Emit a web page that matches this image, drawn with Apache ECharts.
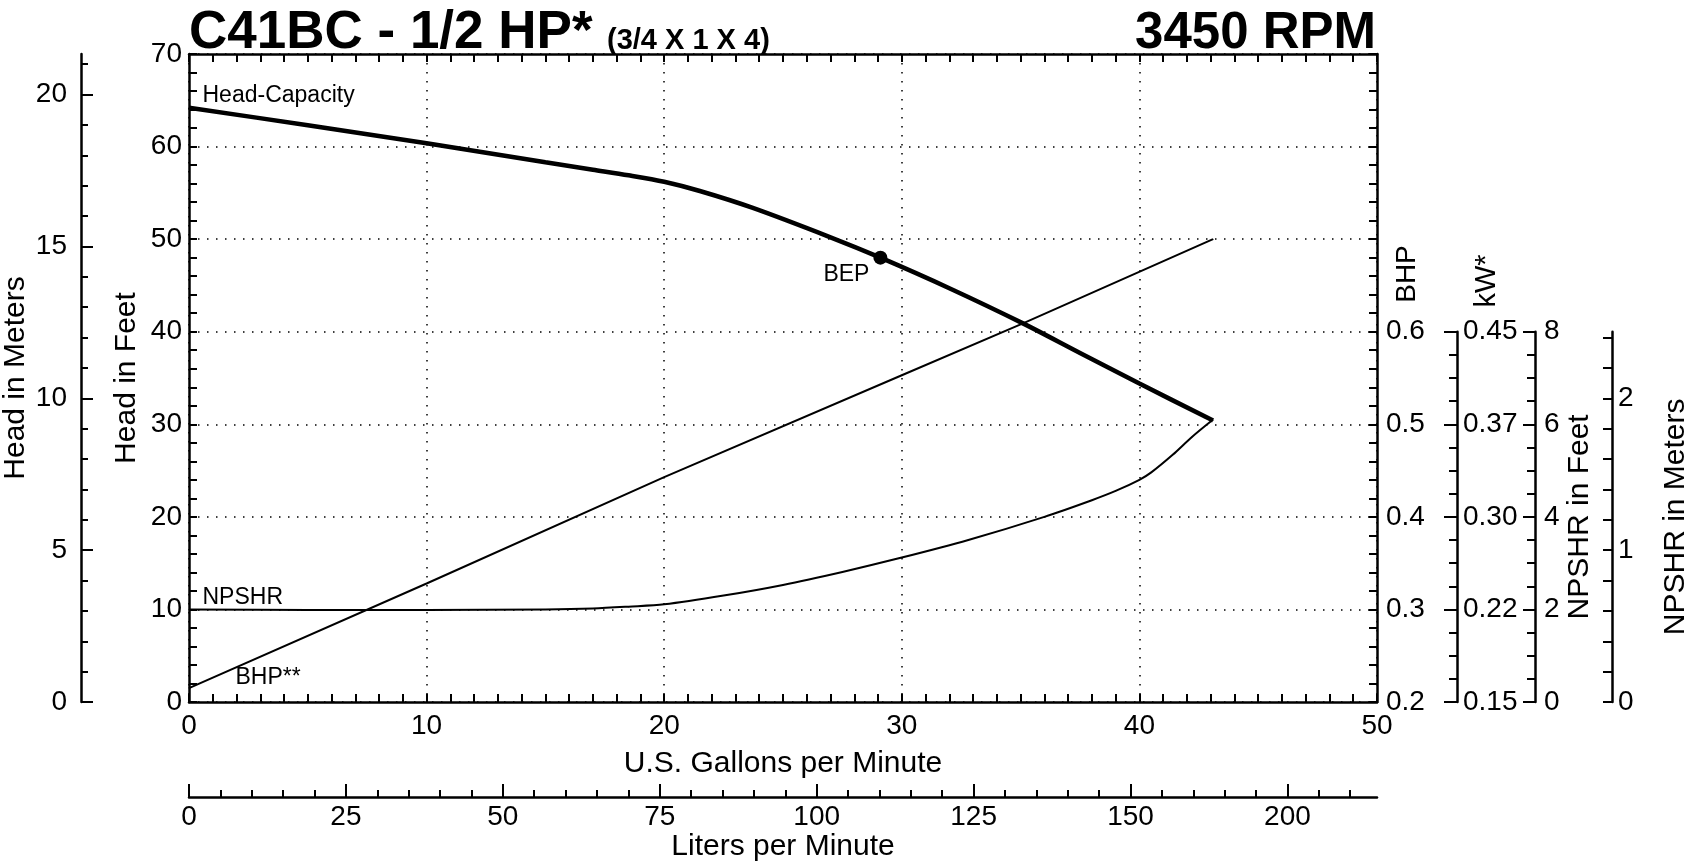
<!DOCTYPE html>
<html><head><meta charset="utf-8">
<script src="https://cdn.jsdelivr.net/npm/echarts@6/dist/echarts.min.js"></script>
<style>html,body{margin:0;padding:0;background:#fff}#c{width:1692px;height:867px}</style>
</head><body><div id="c"></div>
<script>
// ---------- data ----------
const headGpm = [0, 5, 10, 15, 17, 18.5, 20, 21.5, 23.7, 27, 29.1, 32, 35.1, 37.5, 40, 43.1];
const headFt  = [64.2, 62.3, 60.35, 58.3, 57.5, 56.9, 56.2, 55.2, 53.4, 50.2, 48.0, 44.7, 40.9, 37.7, 34.4, 30.4];
const bhpGpm    = [0, 10, 20, 30, 35.1, 43.1];
const bhpValues = [0.215, 0.328, 0.443, 0.553, 0.609, 0.70];
const npshrGpm = [0, 5, 10, 15, 17, 18.5, 20, 22.5, 25, 27.5, 30, 32.8, 36, 38, 39, 40, 40.5, 41.4, 42.2, 43.05];
const npshrFt  = [2.0, 1.99, 1.99, 2.0, 2.02, 2.06, 2.11, 2.3, 2.53, 2.81, 3.12, 3.5, 4.0, 4.36, 4.56, 4.8, 4.96, 5.34, 5.72, 6.08];
const bepGpm = [29.1];
const bepFt  = [48.0];

// ---------- tick labels ----------
const literMajorTicks = [0, 25, 50, 75, 100, 125, 150, 175];
const literTickLabels = ['0', '25', '50', '75', '100', '125', '150', '200']; // as printed on the reference
const meterMajorTicks = [0, 5, 10, 15, 20];
const bhpTickLabels   = [0.2, 0.3, 0.4, 0.5, 0.6];
const kwTickLabels    = ['0.15', '0.22', '0.30', '0.37', '0.45'];
const npshrMeterLabels = [0, 1, 2];

// unit conversions
const LPM_PER_GPM = 3.785411784;
const M_PER_FT = 0.3048;

// minor tick positions
const literMinorTicks = [];
for (let v = 5; v < 189; v += 5) if (v % 25) literMinorTicks.push(v);
const meterMinorTicks = [];
for (let v = 1; v <= 21; v++) if (v % 5) meterMinorTicks.push(v);
const bhpFrameTicks = [];
for (let i = 0; i <= 35; i++) bhpFrameTicks.push(Math.round((0.2 + 0.02 * i) * 100) / 100);
const kwMinorTicks = [];
for (let i = 1; i < 16; i++) if (i % 4) kwMinorTicks.push(Math.round((0.2 + 0.025 * i) * 1000) / 1000);
const npshrMeterTicks = [];
for (let i = 0; i <= 12; i++) npshrMeterTicks.push(Math.round(i * 0.2 * 10) / 10);

const FONT = 'Liberation Sans, Arial, Helvetica, sans-serif';
const BLACK = '#000';
const lineW = 2.5;
const tickStyle = { color: BLACK, width: 2 };
const labelStyle = { color: BLACK, fontSize: 28, fontFamily: FONT };
const nameStyle = { color: BLACK, fontSize: 30, fontFamily: FONT };
const dotted = { show: true, lineStyle: { color: BLACK, width: 1.5, type: [1.5, 7.5] } };
const axLine = { show: true, onZero: false, lineStyle: { color: BLACK, width: lineW } };
const noLine = { show: false, onZero: false };

function pts(xs, ys, firstLabel) {
  return xs.map((x, i) => (i === 0 && firstLabel) ? { value: [x, ys[i]], label: firstLabel } : [x, ys[i]]);
}
const annot = { show: true, color: BLACK, fontSize: 23, fontFamily: FONT };

const chart = echarts.init(document.getElementById('c'), null, { renderer: 'canvas' });
chart.setOption({
  animation: false,
  backgroundColor: '#fff',
  textStyle: { fontFamily: FONT, color: BLACK },
  title: [
    { text: 'C41BC - 1/2 HP*', left: 189, top: 7, padding: 0,
      textStyle: { fontSize: 53, fontWeight: 'bold', color: BLACK, fontFamily: FONT } },
    { text: '(3/4 X 1 X 4)', left: 607, top: 26, padding: 0,
      textStyle: { fontSize: 29, fontWeight: 'bold', color: BLACK, fontFamily: FONT } },
    { text: '3450 RPM', right: 316, top: 8, padding: 0,
      textStyle: { fontSize: 51, fontWeight: 'bold', color: BLACK, fontFamily: FONT } }
  ],
  grid: [
    { left: 189, top: 54, width: 1188, height: 648, containLabel: false, outerBoundsMode: 'none' },
    { left: 189, top: 331.71, width: 1188, height: 370.29, containLabel: false, outerBoundsMode: 'none' }
  ],
  xAxis: [
    { // gallons per minute
      type: 'value', gridIndex: 0, position: 'bottom', min: 0, max: 50, interval: 10,
      name: 'U.S. Gallons per Minute', nameLocation: 'middle', nameGap: 47, nameTextStyle: nameStyle, nameMoveOverlap: false,
      axisLine: axLine,
      axisTick: { show: true, inside: true, length: 8, lineStyle: tickStyle },
      minorTick: { show: true, splitNumber: 10, length: 8, lineStyle: tickStyle },
      axisLabel: Object.assign({ margin: 10 }, labelStyle),
      splitLine: dotted, minorSplitLine: { show: false }
    },
    { // top frame
      type: 'value', gridIndex: 0, position: 'top', min: 0, max: 50, interval: 10,
      axisLine: axLine,
      axisTick: { show: true, inside: true, length: 8, lineStyle: tickStyle },
      minorTick: { show: true, splitNumber: 10, length: 8, lineStyle: tickStyle },
      axisLabel: { show: false }, splitLine: { show: false }
    },
    { // liters per minute (major)
      type: 'value', gridIndex: 0, position: 'bottom', offset: 95, min: 0, max: 50 * LPM_PER_GPM,
      name: 'Liters per Minute', nameLocation: 'middle', nameGap: 35, nameTextStyle: nameStyle, nameMoveOverlap: false,
      axisLine: axLine,
      axisTick: { show: true, inside: true, length: 13, lineStyle: tickStyle, customValues: literMajorTicks },
      axisLabel: Object.assign({ margin: 6, customValues: literMajorTicks,
        formatter: v => literTickLabels[literMajorTicks.indexOf(Math.round(v))] }, labelStyle),
      splitLine: { show: false }
    },
    { // liters per minute (minor)
      type: 'value', gridIndex: 0, position: 'bottom', offset: 95, min: 0, max: 50 * LPM_PER_GPM,
      axisLine: noLine,
      axisTick: { show: true, inside: true, length: 7, lineStyle: tickStyle, customValues: literMinorTicks },
      axisLabel: { show: false }, splitLine: { show: false }
    },
    { // hidden x for the NPSHR grid
      type: 'value', gridIndex: 1, min: 0, max: 50, show: false
    }
  ],
  yAxis: [
    { // 0 head in feet
      type: 'value', gridIndex: 0, position: 'left', min: 0, max: 70, interval: 10,
      name: 'Head in Feet', nameLocation: 'middle', nameGap: 47, nameTextStyle: nameStyle, nameMoveOverlap: false,
      axisLine: axLine,
      axisTick: { show: true, inside: true, length: 8, lineStyle: tickStyle },
      minorTick: { show: true, splitNumber: 5, length: 8, lineStyle: tickStyle },
      axisLabel: Object.assign({ margin: 7 }, labelStyle),
      splitLine: dotted
    },
    { // 1 head in meters (major)
      type: 'value', gridIndex: 0, position: 'left', offset: 108, min: 0, max: 70 * M_PER_FT,
      name: 'Head in Meters', nameLocation: 'middle', nameGap: 50, nameTextStyle: nameStyle, nameMoveOverlap: false,
      axisLine: axLine,
      axisTick: { show: true, inside: true, length: 12, lineStyle: tickStyle, customValues: meterMajorTicks },
      axisLabel: Object.assign({ margin: 14, customValues: meterMajorTicks }, labelStyle),
      splitLine: { show: false }
    },
    { // 2 head in meters (minor)
      type: 'value', gridIndex: 0, position: 'left', offset: 108, min: 0, max: 70 * M_PER_FT,
      axisLine: noLine,
      axisTick: { show: true, inside: true, length: 7, lineStyle: tickStyle, customValues: meterMinorTicks },
      axisLabel: { show: false }, splitLine: { show: false }
    },
    { // 3 BHP (right frame)
      type: 'value', gridIndex: 0, position: 'right', min: 0.2, max: 0.9,
      axisLine: axLine,
      axisTick: { show: true, inside: true, length: 8, lineStyle: tickStyle, customValues: bhpFrameTicks },
      axisLabel: Object.assign({ margin: 9, customValues: bhpTickLabels, formatter: v => v.toFixed(1) }, labelStyle),
      splitLine: { show: false }
    },
    { // 4 kW (major)
      type: 'value', gridIndex: 1, position: 'right', offset: 80, min: 0.2, max: 0.6,
      axisLine: axLine,
      axisTick: { show: true, inside: true, length: 13, lineStyle: tickStyle, customValues: bhpTickLabels },
      axisLabel: Object.assign({ margin: 6, customValues: bhpTickLabels,
        formatter: v => kwTickLabels[bhpTickLabels.indexOf(Math.round(v * 10) / 10)] }, labelStyle),
      splitLine: { show: false }
    },
    { // 5 kW (minor)
      type: 'value', gridIndex: 1, position: 'right', offset: 80, min: 0.2, max: 0.6,
      axisLine: noLine,
      axisTick: { show: true, inside: true, length: 8, lineStyle: tickStyle, customValues: kwMinorTicks },
      axisLabel: { show: false }, splitLine: { show: false }
    },
    { // 6 NPSHR in feet
      type: 'value', gridIndex: 1, position: 'right', offset: 158, min: 0, max: 8, interval: 2,
      name: 'NPSHR in Feet', nameLocation: 'middle', nameGap: 30, nameTextStyle: nameStyle, nameMoveOverlap: false,
      axisLine: axLine,
      axisTick: { show: true, inside: true, length: 12, lineStyle: tickStyle },
      minorTick: { show: true, splitNumber: 4, length: 8, lineStyle: tickStyle },
      axisLabel: Object.assign({ margin: 9 }, labelStyle),
      splitLine: { show: false }
    },
    { // 7 NPSHR in meters
      type: 'value', gridIndex: 1, position: 'right', offset: 235, min: 0, max: 8 * M_PER_FT,
      name: 'NPSHR in Meters', nameLocation: 'middle', nameGap: 49, nameTextStyle: nameStyle, nameMoveOverlap: false,
      axisLine: axLine,
      axisTick: { show: true, inside: true, length: 9, lineStyle: tickStyle, customValues: npshrMeterTicks },
      axisLabel: Object.assign({ margin: 6, customValues: npshrMeterLabels }, labelStyle),
      splitLine: { show: false }
    }
  ],
  graphic: [
    { type: 'text', x: 1407, y: 274, rotation: Math.PI / 2, silent: true,
      style: { text: 'BHP', fill: BLACK, font: '28px ' + FONT, textAlign: 'center', textVerticalAlign: 'middle', align: 'center', verticalAlign: 'middle' } },
    { type: 'text', x: 1487, y: 281, rotation: Math.PI / 2, silent: true,
      style: { text: 'kW*', fill: BLACK, font: '29px ' + FONT, textAlign: 'center', textVerticalAlign: 'middle', align: 'center', verticalAlign: 'middle' } }
  ],
  series: [
    { name: 'Head-Capacity', type: 'line', xAxisIndex: 0, yAxisIndex: 0, smooth: 0.3,
      symbol: 'circle', symbolSize: 1, showSymbol: true, silent: true,
      itemStyle: { color: BLACK }, lineStyle: { color: BLACK, width: 4.5 },
      label: { show: false },
      data: pts(headGpm, headFt, Object.assign({ formatter: 'Head-Capacity', position: 'right', distance: 0, offset: [13, -12] }, annot)) },
    { name: 'BHP**', type: 'line', xAxisIndex: 0, yAxisIndex: 3, smooth: false,
      symbol: 'circle', symbolSize: 1, showSymbol: true, silent: true,
      itemStyle: { color: BLACK }, lineStyle: { color: BLACK, width: 2 },
      label: { show: false },
      data: pts(bhpGpm, bhpValues, Object.assign({ formatter: 'BHP**', position: 'right', distance: 0, offset: [46, -10] }, annot)) },
    { name: 'NPSHR', type: 'line', xAxisIndex: 4, yAxisIndex: 6, smooth: 0.3,
      symbol: 'circle', symbolSize: 1, showSymbol: true, silent: true, clip: false,
      itemStyle: { color: BLACK }, lineStyle: { color: BLACK, width: 2 },
      label: { show: false },
      data: pts(npshrGpm, npshrFt, Object.assign({ formatter: 'NPSHR', position: 'right', distance: 0, offset: [13, -12] }, annot)) },
    { name: 'BEP', type: 'scatter', xAxisIndex: 0, yAxisIndex: 0, silent: true,
      symbol: 'circle', symbolSize: 14, itemStyle: { color: BLACK, opacity: 1 },
      label: Object.assign({ formatter: 'BEP', position: 'left', distance: 4, offset: [0, 17] }, annot),
      data: pts(bepGpm, bepFt) }
  ]
});
</script></body></html>
